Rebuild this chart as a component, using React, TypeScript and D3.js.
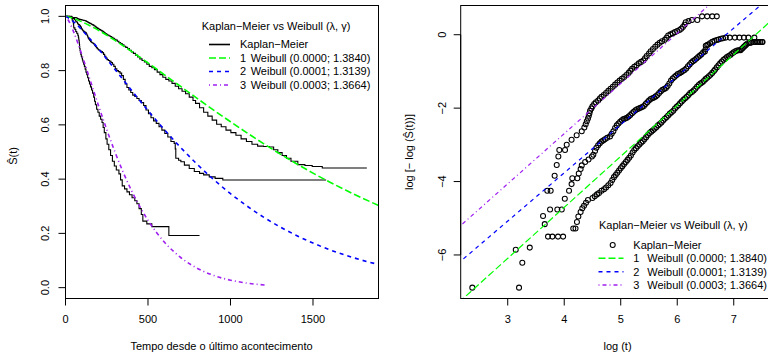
import React, { useEffect, useRef } from "react";
import * as d3 from "d3";

const W = 768,
  H = 356;

// Kaplan-Meier estimates, one point per time, read on the
// log(t) / log(-log S(t)) scale of the right panel
const km1 = [
  [2.373, -6.89], [3.2, -6.89], [3.258, -6.21], [3.39, -5.8], [3.713, -5.5],
  [3.79, -5.5], [3.89, -5.5], [3.98, -5.5], [4.16, -5.28], [4.2, -5.28],
  [4.225, -5.1], [4.25, -4.95], [4.29, -4.83], [4.32, -4.73], [4.35, -4.66],
  [4.385, -4.58], [4.42, -4.5], [4.5, -4.45], [4.54, -4.4], [4.58, -4.35],
  [4.616, -4.31], [4.66, -4.25], [4.704, -4.21], [4.74, -4.16], [4.78, -4.1],
  [4.82, -4.04], [4.85, -3.96], [4.88, -3.88], [4.91, -3.82], [4.94, -3.76],
  [4.97, -3.7], [5.0, -3.64], [5.03, -3.58], [5.06, -3.52], [5.09, -3.47],
  [5.12, -3.41], [5.15, -3.35], [5.18, -3.29], [5.21, -3.21], [5.24, -3.14],
  [5.27, -3.09], [5.3, -3.04], [5.33, -2.99], [5.36, -2.94], [5.39, -2.9],
  [5.42, -2.85], [5.45, -2.79], [5.48, -2.73], [5.51, -2.68], [5.54, -2.64],
  [5.57, -2.6], [5.6, -2.56], [5.63, -2.52], [5.66, -2.47], [5.69, -2.43],
  [5.72, -2.39], [5.75, -2.34], [5.78, -2.29], [5.81, -2.25], [5.84, -2.2],
  [5.87, -2.15], [5.9, -2.11], [5.93, -2.07], [5.96, -2.01], [5.99, -1.96],
  [6.02, -1.92], [6.05, -1.87], [6.08, -1.82], [6.11, -1.77], [6.14, -1.73],
  [6.17, -1.69], [6.2, -1.64], [6.23, -1.59], [6.26, -1.56], [6.29, -1.52],
  [6.32, -1.47], [6.35, -1.42], [6.38, -1.37], [6.41, -1.33], [6.44, -1.3],
  [6.47, -1.26], [6.5, -1.21], [6.53, -1.17], [6.56, -1.13], [6.59, -1.09],
  [6.62, -1.04], [6.65, -0.99], [6.67, -0.95], [6.7, -0.89], [6.73, -0.83],
  [6.76, -0.78], [6.79, -0.73], [6.82, -0.68], [6.85, -0.65], [6.88, -0.61],
  [6.91, -0.58], [6.94, -0.55], [6.97, -0.51], [7.0, -0.48], [7.03, -0.45],
  [7.06, -0.43], [7.09, -0.425], [7.12, -0.42], [7.14, -0.39], [7.16, -0.36],
  [7.18, -0.33], [7.2, -0.3], [7.22, -0.27], [7.25, -0.235], [7.28, -0.225],
  [7.31, -0.215], [7.35, -0.2], [7.38, -0.2], [7.41, -0.2], [7.44, -0.2],
  [7.47, -0.2], [7.5, -0.2], [7.51, -0.2]
];

const km2 = [
  [3.142, -5.86], [3.655, -5.16], [3.749, -4.76], [3.878, -4.76], [3.956, -4.76],
  [4.01, -4.47], [4.085, -4.25], [4.13, -4.07], [4.143, -3.91], [4.232, -3.91],
  [4.257, -3.78], [4.29, -3.66], [4.31, -3.56], [4.37, -3.47], [4.43, -3.4],
  [4.49, -3.32], [4.515, -3.27], [4.545, -3.17], [4.57, -3.08], [4.6, -3.01],
  [4.63, -2.96], [4.66, -2.91], [4.69, -2.88], [4.72, -2.85], [4.76, -2.81],
  [4.81, -2.77], [4.84, -2.7], [4.87, -2.63], [4.9, -2.54], [4.93, -2.47],
  [4.96, -2.42], [4.99, -2.37], [5.02, -2.33], [5.05, -2.3], [5.08, -2.28],
  [5.11, -2.26], [5.14, -2.23], [5.17, -2.19], [5.2, -2.14], [5.23, -2.1],
  [5.26, -2.06], [5.29, -2.03], [5.32, -2.01], [5.35, -1.99], [5.38, -1.97],
  [5.41, -1.94], [5.44, -1.89], [5.47, -1.84], [5.5, -1.79], [5.53, -1.75],
  [5.56, -1.73], [5.59, -1.71], [5.62, -1.68], [5.65, -1.64], [5.68, -1.59],
  [5.71, -1.54], [5.74, -1.5], [5.77, -1.48], [5.8, -1.45], [5.83, -1.4],
  [5.86, -1.33], [5.89, -1.25], [5.92, -1.19], [5.95, -1.15], [5.98, -1.11],
  [6.01, -1.07], [6.04, -1.05], [6.07, -1.02], [6.1, -0.99], [6.13, -0.96],
  [6.16, -0.92], [6.19, -0.86], [6.22, -0.81], [6.25, -0.76], [6.28, -0.72],
  [6.31, -0.69], [6.34, -0.65], [6.37, -0.61], [6.4, -0.57], [6.43, -0.53],
  [6.46, -0.48], [6.49, -0.46], [6.5, -0.4], [6.505, -0.3], [6.53, -0.28],
  [6.55, -0.265], [6.58, -0.23], [6.62, -0.195], [6.66, -0.165], [6.7, -0.145],
  [6.73, -0.13], [6.77, -0.11], [6.81, -0.095], [6.86, -0.079], [6.93, -0.079],
  [7.02, -0.079], [7.1, -0.079], [7.18, -0.079], [7.26, -0.079], [7.365, -0.079]
];

const km3 = [
  [3.625, -4.94], [3.7, -4.25], [3.76, -4.25], [3.83, -3.84], [3.867, -3.55],
  [3.896, -3.32], [3.913, -3.14], [4.014, -3.14], [4.044, -3.0], [4.13, -2.86],
  [4.22, -2.74], [4.31, -2.63], [4.356, -2.53], [4.38, -2.44], [4.4, -2.36],
  [4.42, -2.28], [4.435, -2.21], [4.447, -2.14], [4.457, -2.07], [4.48, -2.01],
  [4.5, -1.95], [4.53, -1.89], [4.56, -1.84], [4.6, -1.79], [4.63, -1.74],
  [4.66, -1.69], [4.7, -1.64], [4.74, -1.59], [4.78, -1.53], [4.82, -1.47],
  [4.86, -1.42], [4.9, -1.36], [4.94, -1.3], [4.98, -1.25], [5.02, -1.2],
  [5.06, -1.15], [5.1, -1.1], [5.14, -1.04], [5.17, -0.98], [5.2, -0.93],
  [5.24, -0.87], [5.28, -0.83], [5.32, -0.78], [5.36, -0.74], [5.4, -0.7],
  [5.43, -0.64], [5.46, -0.58], [5.5, -0.51], [5.53, -0.45], [5.57, -0.39],
  [5.61, -0.33], [5.65, -0.27], [5.69, -0.22], [5.73, -0.18], [5.78, -0.14],
  [5.81, -0.08], [5.84, -0.02], [5.88, 0.01], [5.92, 0.04], [5.96, 0.07],
  [6.0, 0.1], [6.04, 0.13], [6.07, 0.16], [6.1, 0.21], [6.13, 0.27],
  [6.15, 0.34], [6.2, 0.37], [6.26, 0.4], [6.356, 0.4], [6.44, 0.5],
  [6.53, 0.5], [6.62, 0.5], [6.7, 0.5]
];

// fitted Weibull survival curves, sampled off the left panel
const wbT1 = [0, 25, 50, 100, 200, 300, 400, 500, 600, 700, 800, 900, 1000, 1100, 1200, 1300, 1400, 1500, 1600, 1700, 1800, 1900];
const wbS1 = [1, 0.997, 0.9923, 0.9799, 0.9484, 0.9113, 0.8708, 0.8283, 0.7845, 0.7406, 0.6968, 0.6536, 0.6116, 0.5706, 0.5309, 0.4929, 0.4568, 0.4221, 0.3896, 0.3587, 0.3297, 0.3024];
const wbT2 = [0, 25, 50, 100, 150, 200, 300, 400, 500, 600, 700, 800, 900, 1000, 1100, 1200, 1300, 1400, 1500, 1600, 1700, 1800, 1900];
const wbS2 = [1, 0.9917, 0.9795, 0.9499, 0.916, 0.88, 0.8043, 0.7277, 0.6527, 0.5818, 0.5153, 0.4536, 0.3976, 0.3466, 0.301, 0.26, 0.224, 0.1923, 0.1643, 0.14, 0.1191, 0.1007, 0.0851];
const wbT3 = [0, 25, 50, 100, 150, 200, 250, 300, 350, 400, 450, 500, 600, 700, 800, 900, 1000, 1100, 1210];
const wbS3 = [1, 0.977, 0.9419, 0.8568, 0.7641, 0.6713, 0.5824, 0.4998, 0.4247, 0.3579, 0.2991, 0.2482, 0.1674, 0.1102, 0.0708, 0.0446, 0.0275, 0.0167, 0.0095];

// straight Weibull lines of the right panel, ends at log t = 2 and 8
const wbLine1 = [[2, -7.48], [8, 0.852]];
const wbLine2 = [[2, -6.39], [8, 1.493]];
const wbLine3 = [[2, -5.427], [8, 2.771]];

const leftXTicks = [0, 500, 1000, 1500];
const leftYTicks = [0, 0.2, 0.4, 0.6, 0.8, 1];
const rightXTicks = [3, 4, 5, 6, 7];
const rightYTicks = [-6, -4, -2, 0];

const legendTitle = "Kaplan\u2212Meier vs Weibull (\u03bb, \u03b3)";
const kmLabel = "Kaplan\u2212Meier";
const fitNums = ["1", "2", "3"];
const fitLabels = [
  "Weibull (0.0000; 1.3840)",
  "Weibull (0.0001; 1.3139)",
  "Weibull (0.0003; 1.3664)"
];
const colors = ["#00ff00", "#0000ff", "#a020f0"];
const dashes = ["7,3", "4,4", "1,3,4,3"];

const FONT = "'Liberation Sans', Arial, Helvetica, sans-serif";

function axes(g, x, y, xTicks, yTicks, yLabelX, fmtX, fmtY) {
  const [x0, x1] = x.range();
  const [y0, y1] = y.range();
  g.append("line")
    .attr("x1", x(xTicks[0])).attr("x2", x(xTicks[xTicks.length - 1]))
    .attr("y1", y0).attr("y2", y0).attr("stroke", "#000");
  xTicks.forEach(t => {
    g.append("line")
      .attr("x1", x(t)).attr("x2", x(t)).attr("y1", y0).attr("y2", y0 + 7)
      .attr("stroke", "#000");
    g.append("text")
      .attr("x", x(t)).attr("y", 319).attr("dy", "0.35em")
      .attr("text-anchor", "middle").text(fmtX(t));
  });
  g.append("line")
    .attr("x1", x0).attr("x2", x0)
    .attr("y1", y(yTicks[0])).attr("y2", y(yTicks[yTicks.length - 1]))
    .attr("stroke", "#000");
  yTicks.forEach(t => {
    g.append("line")
      .attr("x1", x0 - 7).attr("x2", x0).attr("y1", y(t)).attr("y2", y(t))
      .attr("stroke", "#000");
    g.append("text")
      .attr("transform", `translate(${yLabelX},${y(t)}) rotate(-90)`)
      .attr("dy", "0.35em").attr("text-anchor", "middle").text(fmtY(t));
  });
  g.append("rect")
    .attr("x", x0).attr("y", y1).attr("width", x1 - x0).attr("height", y0 - y1)
    .attr("fill", "none").attr("stroke", "#000");
}

function drawLeft(svg) {
  const x = d3.scaleLinear().domain([0, 1897]).range([65.5, 378.5]);
  const y = d3.scaleLinear().domain([-0.04, 1.04]).range([298.5, 5.5]);
  const g = svg.append("g");

  svg.select("defs").append("clipPath").attr("id", "clipL")
    .append("rect").attr("x", 65.5).attr("y", 5.5).attr("width", 313).attr("height", 293);

  const plot = g.append("g").attr("clip-path", "url(#clipL)");
  const step = d3.line().x(d => x(d[0])).y(d => y(d[1])).curve(d3.curveStepAfter);
  [km1, km2, km3].forEach(km => {
    const pts = [[0, 1], ...km.map(([lt, v]) => [Math.exp(lt), Math.exp(-Math.exp(v))])];
    plot.append("path").attr("d", step(pts))
      .attr("fill", "none").attr("stroke", "#000").attr("stroke-width", 1.1);
  });

  const smooth = d3.line().x(d => x(d[0])).y(d => y(d[1])).curve(d3.curveMonotoneX);
  [[wbT1, wbS1], [wbT2, wbS2], [wbT3, wbS3]].forEach(([ts, ss], i) => {
    plot.append("path").attr("d", smooth(ts.map((t, j) => [t, ss[j]])))
      .attr("fill", "none").attr("stroke", colors[i]).attr("stroke-width", 1.6)
      .attr("stroke-dasharray", dashes[i]);
  });

  axes(g, x, y, leftXTicks, leftYTicks, 45, d => String(d), d3.format(".1f"));

  g.append("text")
    .attr("x", 221.5).attr("y", 346).attr("dy", "0.35em").attr("text-anchor", "middle")
    .text("Tempo desde o \u00faltimo acontecimento");
  g.append("text")
    .attr("transform", "translate(13,156) rotate(-90)")
    .attr("dy", "0.35em").attr("text-anchor", "middle").text("\u015c(t)");

  // legend
  const lg = g.append("g");
  lg.append("text").attr("x", 201.7).attr("y", 26).attr("dy", "0.35em").text(legendTitle);
  const rows = [44.5, 58, 71.5, 85];
  lg.append("line").attr("x1", 209).attr("x2", 230).attr("y1", rows[0]).attr("y2", rows[0])
    .attr("stroke", "#000").attr("stroke-width", 1.6);
  lg.append("text").attr("x", 240).attr("y", rows[0]).attr("dy", "0.35em").text(kmLabel);
  fitLabels.forEach((lab, i) => {
    const ry = rows[i + 1];
    lg.append("line").attr("x1", 209).attr("x2", 230).attr("y1", ry).attr("y2", ry)
      .attr("stroke", colors[i]).attr("stroke-width", 1.6).attr("stroke-dasharray", dashes[i]);
    lg.append("text").attr("x", 240).attr("y", ry).attr("dy", "0.35em").text(fitNums[i]);
    lg.append("text").attr("x", 250.7).attr("y", ry).attr("dy", "0.35em").text(lab);
  });
}

function drawRight(svg) {
  const x = d3.scaleLinear().domain([2.1676, 7.7144]).range([460.7, 774.1]);
  const y = d3.scaleLinear().domain([-7.186, 0.796]).range([298.5, 5.5]);
  const g = svg.append("g");

  svg.select("defs").append("clipPath").attr("id", "clipR")
    .append("rect").attr("x", 460.7).attr("y", 5.5).attr("width", 313.4).attr("height", 293);

  const plot = g.append("g").attr("clip-path", "url(#clipR)");
  [km1, km2, km3].forEach(km => {
    plot.append("g").selectAll("circle").data(km).enter().append("circle")
      .attr("cx", d => x(d[0])).attr("cy", d => y(d[1])).attr("r", 2.5)
      .attr("fill", "none").attr("stroke", "#000").attr("stroke-width", 1.05);
  });

  const line = d3.line().x(d => x(d[0])).y(d => y(d[1]));
  [wbLine1, wbLine2, wbLine3].forEach((l, i) => {
    plot.append("path").attr("d", line(l))
      .attr("fill", "none").attr("stroke", colors[i]).attr("stroke-width", 1.2)
      .attr("stroke-dasharray", dashes[i]);
  });

  axes(g, x, y, rightXTicks, rightYTicks, 442.3, d => String(d), d => String(d).replace("-", "\u2212"));

  g.append("text")
    .attr("x", 617.5).attr("y", 346).attr("dy", "0.35em").attr("text-anchor", "middle")
    .text("log (t)");
  g.append("text")
    .attr("transform", "translate(409,152) rotate(-90)")
    .attr("dy", "0.35em").attr("text-anchor", "middle")
    .text("log [\u2212 log (\u015c(t))]");

  // legend
  const lg = g.append("g");
  lg.append("text").attr("x", 599).attr("y", 225).attr("dy", "0.35em").text(legendTitle);
  const rows = [245, 258.3, 271.7, 285];
  lg.append("circle").attr("cx", 612.7).attr("cy", rows[0]).attr("r", 2.5)
    .attr("fill", "none").attr("stroke", "#000").attr("stroke-width", 1.05);
  lg.append("text").attr("x", 633.3).attr("y", rows[0]).attr("dy", "0.35em").text(kmLabel);
  fitLabels.forEach((lab, i) => {
    const ry = rows[i + 1];
    lg.append("line").attr("x1", 598.5).attr("x2", 623.5).attr("y1", ry).attr("y2", ry)
      .attr("stroke", colors[i]).attr("stroke-width", 1.6).attr("stroke-dasharray", dashes[i]);
    lg.append("text").attr("x", 633.3).attr("y", ry).attr("dy", "0.35em").text(fitNums[i]);
    lg.append("text").attr("x", 647.3).attr("y", ry).attr("dy", "0.35em").text(lab);
  });
}

export default function App() {
  const svgRef = useRef(null);

  useEffect(() => {
    const svg = d3.select(svgRef.current);
    svg.selectAll("*").remove();
    svg.append("defs");
    drawLeft(svg);
    drawRight(svg);
  }, []);

  return (
    <svg
      ref={svgRef}
      width={W}
      height={H}
      fontFamily={FONT}
      fontSize={11}
      style={{ position: "absolute", left: 0, top: 0, background: "#fff" }}
    />
  );
}
